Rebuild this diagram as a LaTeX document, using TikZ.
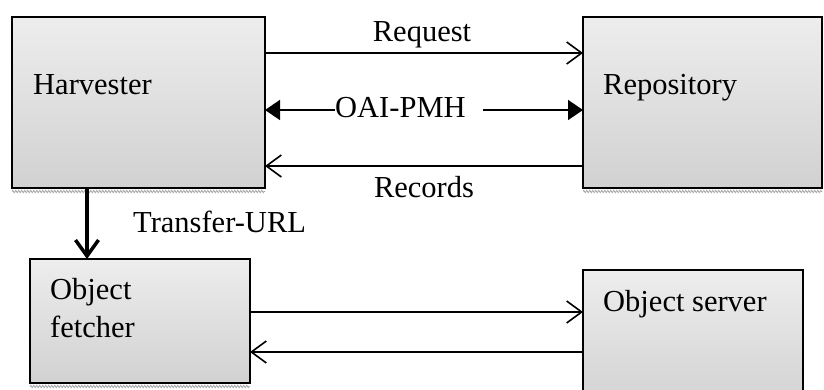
\documentclass[tikz,border=0pt]{standalone}
\usepackage{fontspec}
\setmainfont{Liberation Serif}
\usetikzlibrary{arrows.meta,decorations.pathmorphing}
\begin{document}
\begin{tikzpicture}[x=1pt,y=-1pt,
  box/.style={draw=black,line width=1.8pt,top color=gray!14,bottom color=gray!36,
    anchor=north west,inner sep=0pt,outer sep=0pt},
  lbl/.style={anchor=base west,inner sep=0pt,font=\fontsize{30.5}{36}\selectfont},
  open/.style={line width=1.6pt,-{Straight Barb[length=15pt,width=22pt,line width=1.6pt]}},
  solidhead/.style={line width=1.6pt,-{Triangle[length=15pt,width=20pt]}},
  wavy/.style={draw=gray!70,line width=0.8pt,decorate,decoration={zigzag,segment length=3pt,amplitude=1.2pt}}]
\useasboundingbox (0,0) rectangle (824,390);
\clip (0,0) rectangle (824,390);
\fill[white] (0,0) rectangle (824,390);
% boxes
\node[box,minimum width=253pt,minimum height=171pt] (harv) at (12,17) {};
\node[box,minimum width=239pt,minimum height=171pt] (repo) at (583,17) {};
\node[box,minimum width=220pt,minimum height=124pt] (fetch) at (30,259) {};
\node[box,minimum width=220pt,minimum height=140pt] (serv) at (583,270) {};
% wavy shadows
\draw[wavy] ([yshift=-3.5pt]harv.south west) -- ([yshift=-3.5pt]harv.south east);
\draw[wavy] ([yshift=-3.5pt]repo.south west) -- ([yshift=-3.5pt]repo.south east);
\draw[wavy] ([yshift=-3.5pt]fetch.south west) -- ([yshift=-3.5pt]fetch.south east);
% box texts
\node[lbl] (tharv) at (33,95) {Harvester};
\node[lbl] (trepo) at (603,95) {Repository};
\node[lbl] (tobj) at (50,299) {Object};
\node[lbl] (tfet) at (50,337) {fetcher};
\node[lbl] (tserv) at (603,311) {Object server};
% arrow labels
\node[lbl,anchor=base] (treq) at (422,42) {Request};
\node[lbl,anchor=base west] (toai) at (335,118) {OAI-PMH};
\node[lbl,anchor=base] (trec) at (424,197) {Records};
\node[lbl] (ttr) at (133,233) {Transfer-URL};
% connectors
\draw[open] ([yshift=-36pt]harv.north east) -- ([yshift=-36pt]repo.north west);
\draw[solidhead] ([yshift=-93pt]harv.north east -| toai.west) -- ([yshift=-93pt]harv.north east);
\draw[solidhead] ([xshift=17pt,yshift=-93pt]repo.north west -| toai.east) -- ([yshift=-93pt]repo.north west);
\draw[open] ([yshift=-149pt]repo.north west) -- ([yshift=-149pt]harv.north east);
\draw[line width=3.5pt,-{Straight Barb[length=16pt,width=23pt,line width=3.5pt]}] ([xshift=75pt]harv.south west) -- ([xshift=57pt]fetch.north west);
\draw[open] ([yshift=-53pt]fetch.north east) -- ([yshift=-42pt]serv.north west);
\draw[open] ([yshift=-82pt]serv.north west) -- ([yshift=-93pt]fetch.north east);
\end{tikzpicture}
\end{document}
